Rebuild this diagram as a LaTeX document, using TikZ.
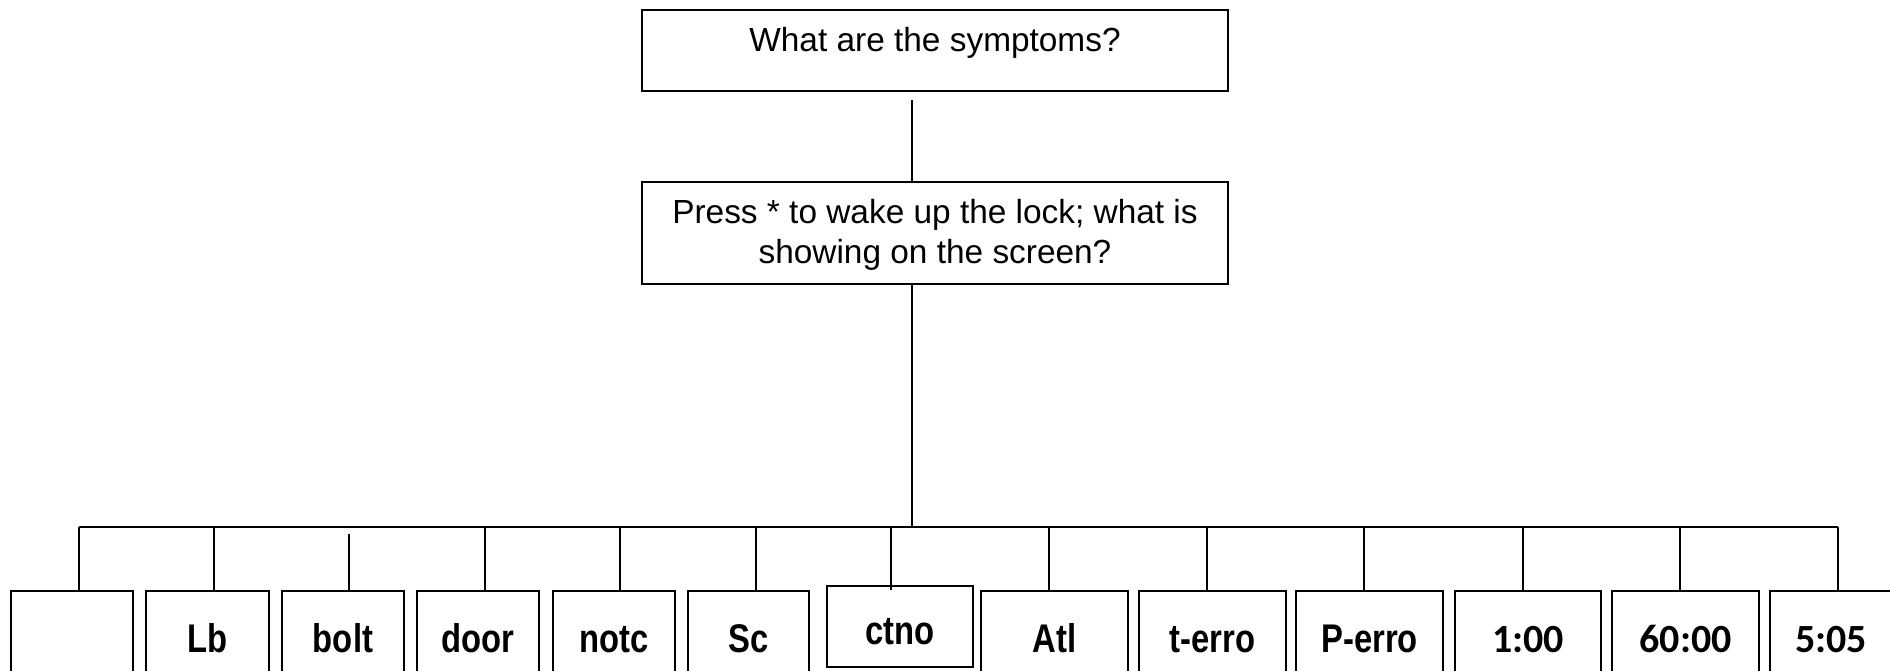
\documentclass[tikz,border=0pt]{standalone}
\usepackage{fontspec}
\setmainfont{Liberation Sans}
\newfontfamily\narrowf[FakeStretch=0.82]{Liberation Sans}
\newfontfamily\numf{Carlito}
\begin{document}
\begin{tikzpicture}[x=1pt,y=-1pt,
  box/.style={draw, line width=1.4pt, inner sep=0pt},
  conn/.style={line width=1.3pt},
  barst/.style={line width=1.8pt},
  lab/.style={anchor=base, font=\narrowf\bfseries\fontsize{40}{48}\selectfont},
  numlab/.style={anchor=base, font=\numf\bfseries\fontsize{40}{48}\selectfont},
  qtext/.style={anchor=base, font=\fontsize{33.4}{40}\selectfont}]
\clip (0,0) rectangle (1890,671);
\fill[white] (0,0) rectangle (1890,671);
% question boxes
\node[box, minimum width=586, minimum height=81] (q1) at (935,50.5) {};
\node[qtext] (q1t) at (935,52) {What are the symptoms?};
\node[box, minimum width=586, minimum height=102] (q2) at (935,233) {};
\node[qtext] (q2a) at (935,224) {Press * to wake up the lock; what is};
\node[qtext] (q2b) at (935,263) {showing on the screen?};
% answer boxes
\node[box, minimum width=122, minimum height=129] (b1) at (72,655.5) {};
\node[box, minimum width=123, minimum height=129] (b2) at (207.5,655.5) {};
\node[box, minimum width=122, minimum height=129] (b3) at (343,655.5) {};
\node[box, minimum width=122, minimum height=129] (b4) at (478,655.5) {};
\node[box, minimum width=122, minimum height=129] (b5) at (614,655.5) {};
\node[box, minimum width=121, minimum height=129] (b6) at (748.5,655.5) {};
\node[box, minimum width=146, minimum height=81] (b7) at (900,626.5) {};
\node[box, minimum width=147, minimum height=129] (b8) at (1054.5,655.5) {};
\node[box, minimum width=147, minimum height=129] (b9) at (1212.5,655.5) {};
\node[box, minimum width=147, minimum height=129] (b10) at (1369.5,655.5) {};
\node[box, minimum width=146, minimum height=129] (b11) at (1528,655.5) {};
\node[box, minimum width=147, minimum height=129] (b12) at (1685.5,655.5) {};
\node[box, minimum width=121, minimum height=129] (b13) at (1830.5,655.5) {};
% labels
\node[lab] (l2) at (207.5,652) {Lb};
\node[lab] (l3) at (343,652) {bolt};
\node[lab] (l4) at (478,652) {door};
\node[lab] (l5) at (614,652) {notc};
\node[lab] (l6) at (748.5,652) {Sc};
\node[lab] (l7) at (900,644) {ctno};
\node[lab] (l8) at (1054.5,652) {Atl};
\node[lab] (l9) at (1212.5,652) {t-erro};
\node[lab] (l10) at (1369.5,652) {P-erro};
\node[numlab] (l11) at (1528,652) {1:00};
\node[numlab] (l12) at (1685.5,652) {60:00};
\node[numlab] (l13) at (1831,652) {5:05};
% connectors
\coordinate (c0) at (912,100);
\draw[conn] (c0) -- (c0 |- q2.north);
\coordinate (barL) at (79,527);
\coordinate (barR) at (1838,527);
\draw[conn] (c0 |- q2.south) -- (c0 |- barL);
\draw[barst] (barL) -- (barR);
\coordinate (t1) at (79,527);
\coordinate (t2) at (214,527);
\coordinate (t3) at (349,534);
\coordinate (t4) at (485,527);
\coordinate (t5) at (620,527);
\coordinate (t6) at (756,527);
\coordinate (t7) at (891,527);
\coordinate (t8) at (1049,527);
\coordinate (t9) at (1207,527);
\coordinate (t10) at (1364,527);
\coordinate (t11) at (1523,527);
\coordinate (t12) at (1680,527);
\coordinate (t13) at (1838,527);
\draw[conn] (t1) -- (t1 |- b1.north);
\draw[conn] (t2) -- (t2 |- b2.north);
\draw[conn] (t3) -- (t3 |- b3.north);
\draw[conn] (t4) -- (t4 |- b4.north);
\draw[conn] (t5) -- (t5 |- b5.north);
\draw[conn] (t6) -- (t6 |- b6.north);
\draw[conn] (t7) -- (t7 |- b6.north);
\draw[conn] (t8) -- (t8 |- b8.north);
\draw[conn] (t9) -- (t9 |- b9.north);
\draw[conn] (t10) -- (t10 |- b10.north);
\draw[conn] (t11) -- (t11 |- b11.north);
\draw[conn] (t12) -- (t12 |- b12.north);
\draw[conn] (t13) -- (t13 |- b13.north);
\end{tikzpicture}
\end{document}
